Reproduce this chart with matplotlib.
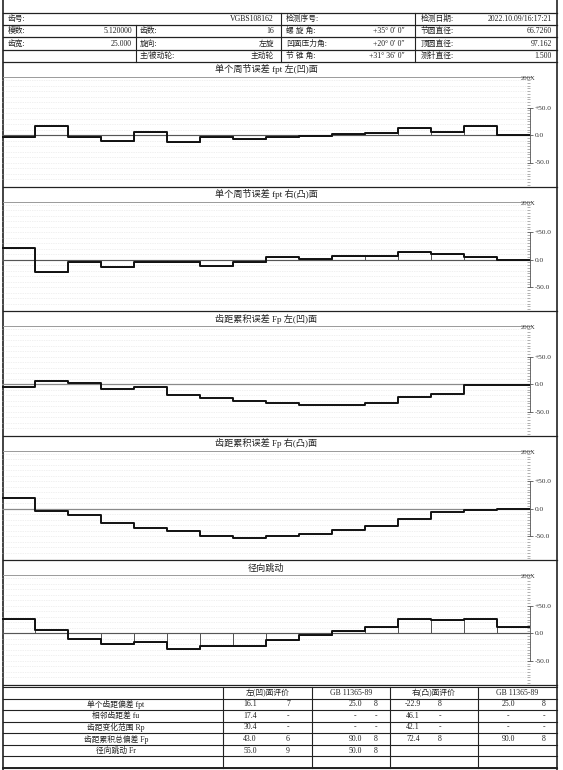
import numpy as np
import matplotlib
matplotlib.use("Agg")
import matplotlib.pyplot as plt
from matplotlib.ticker import MultipleLocator

plt.rcParams['font.family'] = ['Liberation Serif', 'Noto Sans CJK SC']

# ---- data ----
teeth = np.arange(16)
fpt_left = [-4, 15.5, -4, -10, 6, -13, -4, -7, -4, -1, 2, 4, 13, 5, 16.1, 0]
fpt_right = [21, -22.9, -5, -14, -5, -5, -11, -4, 5, 2, 7, 6, 14, 11, 5, 0]
fp_left = [-5, 6, 2, -9, -5, -20, -25, -30, -35, -37, -37, -34, -23, -18, -2, -1]
fp_right = [19.5, -4, -12, -25, -34, -41, -50, -52.9, -50, -46, -38, -31, -18, -5, -2, 0]
fr = [26, 7, -11, -20, -15, -28, -23, -23, -12, -3, 5, 12, 26, 24, 27, 11]

panel_titles = ["单个周节误差 fpt 左(凹)面", "单个周节误差 fpt 右(凸)面",
                "齿距累积误差 Fp 左(凹)面", "齿距累积误差 Fp 右(凸)面", "径向跳动"]
panel_data = [fpt_left, fpt_right, fp_left, fp_right, fr]
panel_bars = [True, True, False, False, True]

head_rows = [
    ["齿号:", "VGBS108162", "", "", "检测序号:", "", "检测日期:", "2022.10.09/16:17:21"],
    ["模数:", "5.120000", "齿数:", "16", "螺 旋 角:", "+35° 0′ 0″", "节圆直径:", "66.7260"],
    ["齿宽:", "25.000", "旋向:", "左旋", "凹面压力角:", "+20° 0′ 0″", "顶圆直径:", "97.162"],
    ["", "", "主/被动轮:", "主动轮", "节 锥 角:", "+31° 36′ 0″", "测针直径:", "1.500"],
]

eval_head = ["左(凹)面评价", "GB 11365-89", "右(凸)面评价", "GB 11365-89"]
eval_labels = ["单个齿距偏差 fpt", "相邻齿距差 fu", "齿距变化范围 Rp", "齿距累积总偏差 Fp", "径向跳动 Fr"]
eval_vals = [
    ["16.1", "7", "25.0", "8", "-22.9", "8", "25.0", "8"],
    ["17.4", "-", "-", "-", "46.1", "-", "-", "-"],
    ["30.4", "-", "-", "-", "42.1", "-", "-", "-"],
    ["43.0", "6", "90.0", "8", "72.4", "8", "90.0", "8"],
    ["55.0", "9", "50.0", "8", "", "", "", ""],
]

W, H = 563, 770
fig = plt.figure(figsize=(W / 100, H / 100), dpi=100)
fx = fig.add_axes([0, 0, 1, 1])
fx.set_xlim(0, W)
fx.set_ylim(H, 0)
fx.axis("off")

ink = "#222222"
fs = 5.6
L, R = 3, 557

# outer frame
fx.plot([L, L], [0, H], color=ink, lw=1.2)
fx.plot([R, R], [0, H], color=ink, lw=1.2)

# header table
hy = [13, 25.2, 37.4, 49.6, 61.8]
for y in hy:
    fx.plot([L, R], [y, y], color=ink, lw=0.9)
fx.plot([281, 281], [hy[0], hy[4]], color=ink, lw=0.8)
fx.plot([415, 415], [hy[0], hy[4]], color=ink, lw=0.8)
fx.plot([136, 136], [hy[1], hy[4]], color=ink, lw=0.8)
lab_x = [8, 140, 286, 421]
val_x = [132, 274, 405, 552]
for i, row in enumerate(head_rows):
    yc = (hy[i] + hy[i + 1]) / 2
    for c in range(4):
        lab, val = row[2 * c], row[2 * c + 1]
        if i == 0 and c == 0:
            fx.text(8, yc, lab, fontsize=fs, va="center", color=ink)
            fx.text(274, yc, val, fontsize=fs, va="center", ha="right", color=ink)
            continue
        if i == 0 and c == 1:
            continue
        fx.text(lab_x[c], yc, lab, fontsize=fs, va="center", color=ink)
        fx.text(val_x[c], yc, val, fontsize=fs, va="center", ha="right", color=ink)

# panels
ptop = [62, 186.6, 311.2, 435.8, 560.4]
ppx = 0.55  # pixels per micron
for k in range(5):
    t = ptop[k]
    fx.plot([L, R], [t + 124.6, t + 124.6], color=ink, lw=0.9)
    fx.plot([L, 532], [t + 15, t + 15], color="#9a9a9a", lw=0.7)
    fx.text(266, t + 7.5, panel_titles[k], fontsize=6.6, ha="center", va="center", color=ink)
    fx.text(528, t + 16.5, "200X", fontsize=4.8, ha="center", va="center", color="#444444")

    top_px, bot_px, zero_px = t + 16, t + 123, t + 73
    ax = fig.add_axes([2 / W, 1 - bot_px / H, 528 / W, (bot_px - top_px) / H])
    ax.set_xlim(0, 16)
    ax.set_ylim(-(bot_px - zero_px) / ppx, (zero_px - top_px) / ppx)
    ax.patch.set_alpha(0)

    for g in range(-80, 101, 10):
        ax.axhline(g, color="#e2e2e2", lw=0.5, ls=(0, (1, 1.5)), zorder=0)
    ax.axhline(0, color="#8a8a8a", lw=0.9, zorder=1)

    v = np.asarray(panel_data[k], dtype=float)
    if panel_bars[k]:
        ax.bar(teeth, v, width=1, align="edge", fill=False,
               edgecolor="#555555", lw=0.7, zorder=2)
    ax.step(np.arange(17), np.append(v, v[-1]), where="post",
            color="#111111", lw=1.4, zorder=3)

    for s in ["top", "left", "bottom"]:
        ax.spines[s].set_visible(False)
    ax.spines["right"].set_bounds(-50, 50)
    ax.spines["right"].set_color("#555555")
    ax.spines["right"].set_linewidth(0.6)
    ax.yaxis.tick_right()
    ax.set_xticks([])
    ax.set_yticks([-50, 0, 50])
    ax.set_yticklabels(["-50.0", "0.0", "+50.0"], fontsize=5.3, color="#333333")
    ax.yaxis.set_minor_locator(MultipleLocator(5))
    ax.tick_params(axis="y", which="major", direction="inout", length=4, width=0.6,
                   pad=1.5, colors="#555555", labelcolor="#333333")
    ax.tick_params(axis="y", which="minor", direction="in", length=2, width=0.4,
                   colors="#777777")

# evaluation table
ty = [687 + i * 11.57 for i in range(8)]
for y in ty:
    fx.plot([L, R], [y, y], color=ink, lw=0.8)
fx.plot([L, R], [ty[-1], ty[-1]], color=ink, lw=1.4)
cols = [223, 312, 390, 478]
for x in cols:
    fx.plot([x, x], [ty[0], ty[-1]], color=ink, lw=0.8)
edges = cols + [R]
for c in range(4):
    fx.text((edges[c] + edges[c + 1]) / 2, (ty[0] + ty[1]) / 2, eval_head[c],
            fontsize=fs, ha="center", va="center", color=ink)
vx = [250, 355, 413, 508]
gx = [288, 376, 440, 544]
for r in range(5):
    yc = (ty[r + 1] + ty[r + 2]) / 2
    fx.text(116, yc, eval_labels[r], fontsize=fs, ha="center", va="center", color=ink)
    for c in range(4):
        fx.text(vx[c], yc, eval_vals[r][2 * c], fontsize=fs, ha="center", va="center", color=ink)
        fx.text(gx[c], yc, eval_vals[r][2 * c + 1], fontsize=fs, ha="center", va="center", color=ink)

fig.savefig("out.png", dpi=100)
